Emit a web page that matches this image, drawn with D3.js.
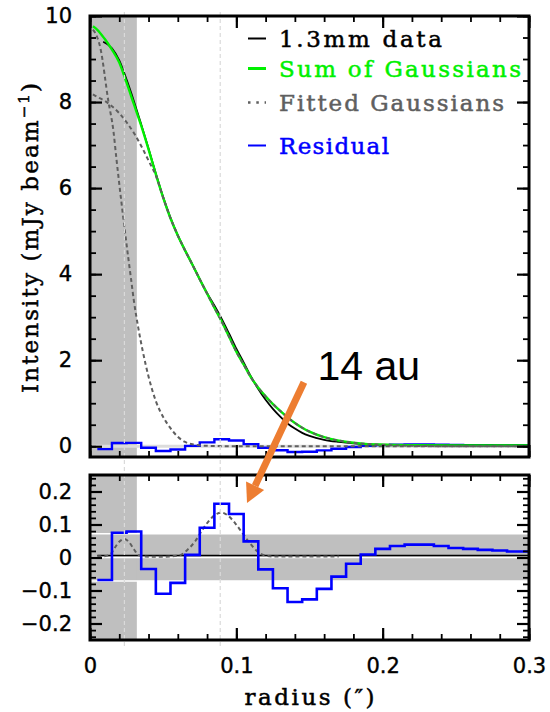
<!DOCTYPE html>
<html>
<head>
<meta charset="utf-8">
<script src="https://cdn.jsdelivr.net/npm/d3@7"></script>
<style>
  body { margin: 0; background: #fff; }
  svg { display: block; }
</style>
</head>
<body>
<script>
// radius in arcsec, intensity in mJy/beam
const dataR = [0.009, 0.015, 0.02, 0.025, 0.03, 0.035, 0.04, 0.045, 0.05, 0.055, 0.06, 0.065, 0.07, 0.075, 0.08, 0.085, 0.09, 0.095, 0.1, 0.105, 0.11, 0.115, 0.12, 0.125, 0.13, 0.135, 0.14, 0.145, 0.15, 0.16, 0.17, 0.18, 0.19, 0.2, 0.22, 0.25, 0.3];
const dataI = [9.40, 9.25, 8.97, 8.52, 8.02, 7.48, 6.92, 6.34, 5.79, 5.31, 4.90, 4.55, 4.22, 3.88, 3.56, 3.27, 2.96, 2.62, 2.27, 1.95, 1.62, 1.33, 1.08, 0.87, 0.69, 0.53, 0.41, 0.31, 0.24, 0.15, 0.10, 0.065, 0.045, 0.035, 0.025, 0.02, 0.02];

const sumR = [0.002, 0.005, 0.01, 0.015, 0.02, 0.025, 0.03, 0.035, 0.04, 0.045, 0.05, 0.055, 0.06, 0.065, 0.07, 0.075, 0.08, 0.085, 0.09, 0.095, 0.1, 0.105, 0.11, 0.115, 0.12, 0.125, 0.13, 0.135, 0.14, 0.145, 0.15, 0.16, 0.17, 0.18, 0.19, 0.2, 0.22, 0.25, 0.3];
const sumI = [9.76, 9.68, 9.47, 9.22, 8.92, 8.45, 7.95, 7.45, 6.90, 6.32, 5.78, 5.30, 4.90, 4.55, 4.22, 3.88, 3.55, 3.22, 2.90, 2.55, 2.20, 1.90, 1.60, 1.36, 1.16, 0.98, 0.82, 0.67, 0.54, 0.43, 0.34, 0.21, 0.13, 0.08, 0.05, 0.035, 0.025, 0.02, 0.02];

// fitted gaussian components
const broadR = [0.002, 0.005, 0.01, 0.015, 0.02, 0.025, 0.03, 0.035, 0.04, 0.045, 0.05, 0.055, 0.06, 0.065, 0.07, 0.075, 0.08, 0.085, 0.09, 0.095, 0.1, 0.105, 0.11, 0.115, 0.12, 0.125, 0.13, 0.135, 0.14, 0.145, 0.15, 0.16, 0.17, 0.18, 0.19, 0.2, 0.22, 0.25, 0.3];
const broadI = [8.18, 8.12, 8.03, 7.90, 7.74, 7.53, 7.28, 6.98, 6.64, 6.29, 5.78, 5.30, 4.90, 4.55, 4.22, 3.88, 3.55, 3.22, 2.90, 2.55, 2.20, 1.90, 1.60, 1.36, 1.16, 0.98, 0.82, 0.67, 0.54, 0.43, 0.34, 0.21, 0.13, 0.08, 0.05, 0.03, 0.01, 0.0, 0.0];
const narrowR = [0.002, 0.004, 0.007, 0.0125, 0.016, 0.018, 0.02, 0.022, 0.024, 0.026, 0.028, 0.03, 0.033, 0.036, 0.04, 0.045, 0.05, 0.055, 0.06, 0.065, 0.07, 0.08, 0.1, 0.3];
const narrowI = [9.68, 9.58, 9.27, 8.03, 7.33, 6.70, 6.10, 5.52, 4.96, 4.42, 3.90, 3.38, 2.75, 2.22, 1.62, 1.05, 0.68, 0.42, 0.22, 0.10, 0.045, 0.01, 0.0, 0.0];
const ringR = [0.005, 0.01, 0.014, 0.017, 0.02, 0.0235, 0.027, 0.03, 0.033, 0.037, 0.045, 0.055, 0.062, 0.067, 0.072, 0.077, 0.082, 0.087, 0.09, 0.094, 0.099, 0.104, 0.109, 0.114, 0.119, 0.125, 0.17];
const ringI = [0.004, 0.004, 0.01, 0.03, 0.048, 0.056, 0.045, 0.025, 0.008, 0.003, 0.002, 0.003, 0.008, 0.025, 0.05, 0.085, 0.115, 0.133, 0.136, 0.128, 0.105, 0.075, 0.045, 0.02, 0.007, 0.003, 0.003];

// residual, binned (bin centres)
const residR = [0.01, 0.02, 0.03, 0.04, 0.05, 0.06, 0.07, 0.08, 0.09, 0.1, 0.11, 0.12, 0.13, 0.14, 0.15, 0.16, 0.17, 0.18, 0.19, 0.2, 0.21, 0.22, 0.23, 0.24, 0.25, 0.26, 0.27, 0.28, 0.29, 0.3];
const residI = [-0.068, 0.075, 0.079, -0.035, -0.110, -0.077, 0.008, 0.090, 0.163, 0.132, 0.049, -0.036, -0.093, -0.135, -0.127, -0.095, -0.058, -0.019, 0.009, 0.026, 0.035, 0.039, 0.039, 0.035, 0.029, 0.026, 0.023, 0.021, 0.018, 0.018];
const binWidth = 0.01;

const dataZeroR = [0.005, 0.3];
const dataZeroI = [0.006, 0.006];

const maskR = [0, 0.032];          // shaded inner region
const noiseBand = [-0.071, 0.072]; // shaded band in residual panel
const markerR = [0.0235, 0.089];   // ring positions
const refLines = [-0.071, 0, 0.072];

const xTicks = [0, 0.1, 0.2, 0.3];
const yTopTicks = [0, 2, 4, 6, 8, 10];
const yBotTicks = [-0.2, -0.1, 0, 0.1, 0.2];

const legendItems = ["1.3mm data", "Sum of Gaussians", "Fitted Gaussians", "Residual"];
const legendColors = ["#000000", "#00f000", "#5f5f5f", "#0000ff"];

const width = 550, height = 712;
const serif = "'DejaVu Serif', serif";
const sans = "'DejaVu Sans', sans-serif";

const svg = d3.select("body").append("svg")
  .attr("width", width).attr("height", height)
  .attr("viewBox", [0, 0, width, height]);

const x = d3.scaleLinear().domain([0, 0.3]).range([90, 529]);
const yTop = d3.scaleLinear().domain([-0.25, 10]).range([457, 16]);
const yBot = d3.scaleLinear().domain([-0.25, 0.25]).range([640, 475]);

const zip = (rs, vs) => rs.map((r, i) => ({ r: r, v: vs[i] }));

// clip paths
const defs = svg.append("defs");
defs.append("clipPath").attr("id", "clipTop").append("rect")
  .attr("x", x(0)).attr("y", yTop(10))
  .attr("width", x(0.3) - x(0)).attr("height", yTop(-0.25) - yTop(10));
defs.append("clipPath").attr("id", "clipBot").append("rect")
  .attr("x", x(0)).attr("y", yBot(0.25))
  .attr("width", x(0.3) - x(0)).attr("height", yBot(-0.25) - yBot(0.25));

const topPanel = svg.append("g").attr("clip-path", "url(#clipTop)");
const botPanel = svg.append("g").attr("clip-path", "url(#clipBot)");

// shading
topPanel.append("rect")
  .attr("x", x(maskR[0])).attr("width", x(maskR[1]) - x(maskR[0]))
  .attr("y", yTop(10)).attr("height", yTop(-0.25) - yTop(10))
  .attr("fill", "#bfbfbf");
botPanel.append("rect")
  .attr("x", x(0)).attr("width", x(0.3) - x(0))
  .attr("y", yBot(noiseBand[1])).attr("height", yBot(noiseBand[0]) - yBot(noiseBand[1]))
  .attr("fill", "#bfbfbf");
botPanel.append("rect")
  .attr("x", x(maskR[0])).attr("width", x(maskR[1]) - x(maskR[0]))
  .attr("y", yBot(0.25)).attr("height", yBot(-0.25) - yBot(0.25))
  .attr("fill", "#bfbfbf");

// zero line in top panel, white reference lines in residual panel
topPanel.append("line")
  .attr("x1", x(0)).attr("x2", x(0.3))
  .attr("y1", yTop(0)).attr("y2", yTop(0))
  .attr("stroke", "#dcdcdc").attr("stroke-width", 3);
botPanel.selectAll(".ref").data(refLines).join("line")
  .attr("x1", x(0)).attr("x2", x(0.3))
  .attr("y1", d => yBot(d)).attr("y2", d => yBot(d))
  .attr("stroke", "#ffffff").attr("stroke-width", 1.5);

// vertical dashed markers across both panels
svg.selectAll(".marker").data(markerR).join("line")
  .attr("x1", d => x(d)).attr("x2", d => x(d))
  .attr("y1", yTop(10) - 4).attr("y2", yBot(-0.25) + 6)
  .attr("stroke", "#dadada").attr("stroke-width", 1.2)
  .attr("stroke-dasharray", "4,3");

const lineTop = d3.line().x(d => x(d.r)).y(d => yTop(d.v)).curve(d3.curveMonotoneX);
const lineBot = d3.line().x(d => x(d.r)).y(d => yBot(d.v)).curve(d3.curveMonotoneX);

function residSteps() {
  const pts = residR.map((r, i) => ({ r: r - binWidth / 2, v: residI[i] }));
  pts.push({ r: residR[residR.length - 1] + binWidth / 2, v: residI[residI.length - 1] });
  return pts;
}
const stepTop = d3.line().x(d => x(d.r)).y(d => yTop(d.v)).curve(d3.curveStepAfter);
const stepBot = d3.line().x(d => x(d.r)).y(d => yBot(d.v)).curve(d3.curveStepAfter);

// top panel curves
topPanel.append("path")
  .attr("d", stepTop(residSteps()))
  .attr("fill", "none").attr("stroke", "#0000ff").attr("stroke-width", 2.4);
topPanel.append("path")
  .attr("d", lineTop(zip(dataR, dataI)))
  .attr("fill", "none").attr("stroke", "#000").attr("stroke-width", 1.8);
topPanel.append("path")
  .attr("d", lineTop(zip(sumR, sumI)))
  .attr("fill", "none").attr("stroke", "#00f000").attr("stroke-width", 2.4);
[zip(broadR, broadI), zip(narrowR, narrowI)].forEach(g => {
  topPanel.append("path")
    .attr("d", lineTop(g))
    .attr("fill", "none").attr("stroke", "#5f5f5f").attr("stroke-width", 2)
    .attr("stroke-dasharray", "4,3");
});

// residual panel curves
botPanel.append("path")
  .attr("d", lineBot(zip(dataZeroR, dataZeroI)))
  .attr("fill", "none").attr("stroke", "#000").attr("stroke-width", 1.5);
botPanel.append("path")
  .attr("d", lineBot(zip(ringR, ringI)))
  .attr("fill", "none").attr("stroke", "#5f5f5f").attr("stroke-width", 2)
  .attr("stroke-dasharray", "4,3");
botPanel.append("path")
  .attr("d", stepBot(residSteps()))
  .attr("fill", "none").attr("stroke", "#0000ff").attr("stroke-width", 2.6);

// axes (ticks point inwards on all four sides)
function frame(y, yMajor, yMinorCount, yFmt, xLabels) {
  const y0 = y.range()[0], y1 = y.range()[1];
  const axes = [
    [d3.axisLeft(y), x(0), 0, yMajor, y.ticks(yMinorCount), yFmt],
    [d3.axisRight(y), x(0.3), 0, yMajor, y.ticks(yMinorCount), null],
    [d3.axisBottom(x), 0, y0, xTicks, x.ticks(15), xLabels ? (d => d === 0 ? "0" : d3.format(".1f")(d)) : null],
    [d3.axisTop(x), 0, y1, xTicks, x.ticks(15), null]
  ];
  axes.forEach(([ax, tx, ty, major, minor, fmt]) => {
    const gMinor = svg.append("g").attr("transform", `translate(${tx},${ty})`)
      .call(ax.tickValues(minor).tickSize(-6).tickFormat(""));
    gMinor.select(".domain").remove();
    gMinor.selectAll("line").attr("stroke-width", 1.8);
    const gMajor = svg.append("g").attr("transform", `translate(${tx},${ty})`)
      .call(ax.tickValues(major).tickSize(-12).tickPadding(18).tickFormat(fmt || ""));
    gMajor.select(".domain").remove();
    gMajor.selectAll("line").attr("stroke-width", 2.2);
    gMajor.selectAll("text")
      .style("font-family", sans).style("font-size", "21px")
      .attr("fill", "#000").attr("stroke", "#000").attr("stroke-width", 0.4);
  });
  svg.append("rect")
    .attr("x", x(0)).attr("y", y1)
    .attr("width", x(0.3) - x(0)).attr("height", y0 - y1)
    .attr("fill", "none").attr("stroke", "#000").attr("stroke-width", 3);
}
frame(yTop, yTopTicks, 20, d3.format("d"), false);
frame(yBot, yBotTicks, 25, d => d === 0 ? "0" : d3.format(".1f")(d), true);

// axis titles
const yTitle = svg.append("text")
  .attr("transform", "translate(38,238) rotate(-90)")
  .attr("text-anchor", "middle")
  .style("font-family", serif).style("font-size", "23px")
  .attr("stroke", "#000").attr("stroke-width", 0.5)
  .attr("textLength", 310).attr("lengthAdjust", "spacing");
yTitle.append("tspan").text("Intensity (mJy beam");
yTitle.append("tspan").attr("dy", -9).style("font-size", "15px").text("\u22121");
yTitle.append("tspan").attr("dy", 9).text(")");

svg.append("text")
  .attr("x", (x(0) + x(0.3)) / 2).attr("y", 705)
  .attr("text-anchor", "middle")
  .style("font-family", serif).style("font-size", "23px")
  .attr("stroke", "#000").attr("stroke-width", 0.5)
  .attr("textLength", 130).attr("lengthAdjust", "spacing")
  .text("radius (\u2033)");

// legend
const legendBase = [47, 77, 111, 154];
const legendLen = [163, 242, 225, 110];
legendItems.forEach((t, i) => {
  svg.append("text")
    .attr("x", 279).attr("y", legendBase[i])
    .attr("fill", legendColors[i])
    .attr("stroke", legendColors[i]).attr("stroke-width", 0.5)
    .style("font-family", serif).style("font-size", "23px")
    .attr("textLength", legendLen[i]).attr("lengthAdjust", "spacing")
    .text(t);
  const ln = svg.append("line")
    .attr("x1", 248).attr("x2", 266)
    .attr("y1", legendBase[i] - 8.5).attr("y2", legendBase[i] - 8.5)
    .attr("stroke", legendColors[i])
    .attr("stroke-width", i === 1 ? 3 : 2);
  if (i === 2) ln.attr("stroke-dasharray", "2.5,5.8").attr("stroke-width", 2.5);
});

// annotation arrow
const arrowFrom = [x(0.1462), yTop(1.49)];
const arrowTo = [x(0.1073), yBot(0.165)];
const ang = Math.atan2(arrowTo[1] - arrowFrom[1], arrowTo[0] - arrowFrom[0]);
const headLen = 19, headHalf = 10;
const base = [arrowTo[0] - headLen * Math.cos(ang), arrowTo[1] - headLen * Math.sin(ang)];
svg.append("line")
  .attr("x1", arrowFrom[0]).attr("y1", arrowFrom[1])
  .attr("x2", base[0]).attr("y2", base[1])
  .attr("stroke", "#ed7d31").attr("stroke-width", 7);
svg.append("polygon")
  .attr("points", [
    arrowTo,
    [base[0] + headHalf * Math.sin(ang), base[1] - headHalf * Math.cos(ang)],
    [base[0] - headHalf * Math.sin(ang), base[1] + headHalf * Math.cos(ang)]
  ].map(p => p.join(",")).join(" "))
  .attr("fill", "#ed7d31");

svg.append("text")
  .attr("x", x(0.1555)).attr("y", yTop(1.54))
  .style("font-family", "'Liberation Sans', Arial, sans-serif").style("font-size", "41px")
  .attr("fill", "#000")
  .text("14 au");
</script>
</body>
</html>
